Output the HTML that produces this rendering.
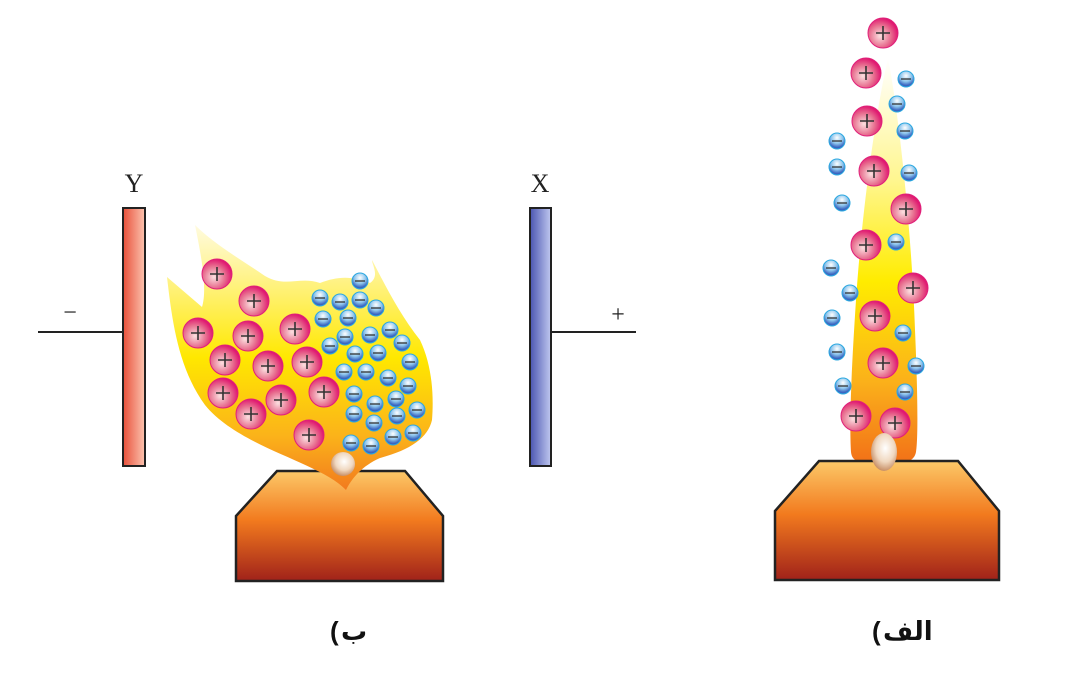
<!DOCTYPE html>
<html><head><meta charset="utf-8"><style>
html,body{margin:0;padding:0;background:#fff;width:1065px;height:675px;overflow:hidden}
svg{display:block}
</style></head><body>
<svg id="s" width="1065" height="675" viewBox="0 0 1065 675" xmlns="http://www.w3.org/2000/svg">
<defs>
<linearGradient id="burn" x1="0" y1="0" x2="0" y2="1"><stop offset="0" stop-color="#fcc868"/><stop offset="0.45" stop-color="#f27a1e"/><stop offset="1" stop-color="#a0221a"/></linearGradient>
<linearGradient id="flameL" x1="0" y1="0" x2="0" y2="1"><stop offset="0" stop-color="#fffbe0"/><stop offset="0.2" stop-color="#fff38a"/><stop offset="0.5" stop-color="#ffe800"/><stop offset="0.8" stop-color="#fbb21a"/><stop offset="1" stop-color="#f27a1e"/></linearGradient>
<linearGradient id="flameR" x1="0" y1="0" x2="0" y2="1"><stop offset="0" stop-color="#ffffff"/><stop offset="0.3" stop-color="#fff690"/><stop offset="0.55" stop-color="#ffec00"/><stop offset="0.8" stop-color="#fbb01a"/><stop offset="1" stop-color="#f27018"/></linearGradient>
<linearGradient id="red" x1="0" y1="0" x2="1" y2="0"><stop offset="0" stop-color="#e8503a"/><stop offset="1" stop-color="#fcc4b0"/></linearGradient>
<linearGradient id="blue" x1="0" y1="0" x2="1" y2="0"><stop offset="0" stop-color="#4a55b0"/><stop offset="1" stop-color="#c0c8f0"/></linearGradient>
<radialGradient id="pos" cx="0.4" cy="0.6" r="0.6"><stop offset="0" stop-color="#fbe0e0"/><stop offset="0.6" stop-color="#e87090"/><stop offset="1" stop-color="#e01870"/></radialGradient>
<radialGradient id="neg" cx="0.5" cy="0.3" r="0.6"><stop offset="0" stop-color="#ffffff"/><stop offset="0.6" stop-color="#8cc4ec"/><stop offset="1" stop-color="#3a64c0"/></radialGradient>
<radialGradient id="egg" cx="0.55" cy="0.4" r="0.6"><stop offset="0" stop-color="#ffffff"/><stop offset="0.6" stop-color="#f0d8c0"/><stop offset="1" stop-color="#c89068"/></radialGradient>
</defs>

<polygon points="277,471 405,471 443,516 443,581 236,581 236,516" fill="url(#burn)" stroke="#222" stroke-width="2.5"/>
<path fill="url(#flameL)" d="M346,490 C320,462 240,448 205,405 C178,368 172,320 167,277 L202,307 C208,288 200,250 195,225 C215,245 245,262 265,276 C285,288 300,276 320,283 C338,276 352,276 370,283 C380,276 372,265 372,260 C385,285 400,315 420,340 C432,365 434,395 432,420 C428,438 410,450 380,458 C362,466 352,478 346,490 Z"/>
<path fill="url(#flameR)" d="M888,58 C900,120 912,240 915,330 C918,400 918,440 916,452 C914,462 905,464 884,464 C860,464 852,462 851,452 C849,420 852,360 856,300 C862,210 876,110 888,58 Z"/>
<polygon points="819,461 958,461 999,511 999,580 775,580 775,511" fill="url(#burn)" stroke="#222" stroke-width="2.5"/>

<g id="ions"></g>

<ellipse cx="343" cy="464" rx="12" ry="12" fill="url(#egg)"/>
<ellipse cx="884" cy="452" rx="13" ry="19" fill="url(#egg)"/>

<line x1="38" y1="332" x2="123" y2="332" stroke="#222" stroke-width="2"/>
<line x1="551" y1="332" x2="636" y2="332" stroke="#222" stroke-width="2"/>
<rect x="123" y="208" width="22" height="258" fill="url(#red)" stroke="#222" stroke-width="2"/>
<rect x="530" y="208" width="21" height="258" fill="url(#blue)" stroke="#222" stroke-width="2"/>
<g font-family="Liberation Serif, serif" font-size="26" fill="#222">
<text x="134" y="192" text-anchor="middle">Y</text>
<text x="540" y="192" text-anchor="middle">X</text>
<text x="70" y="320" text-anchor="middle" font-size="24">−</text>
<text x="618" y="322" text-anchor="middle" font-size="24">+</text>
</g>
<g font-family="Liberation Sans, 'DejaVu Sans', sans-serif" font-size="26" font-weight="bold" fill="#111">
<text x="330" y="640">(</text>
<text x="341" y="640">ب</text>
<text x="872" y="640">(</text>
<text x="883" y="640">الف</text>
</g>
</svg>
<script>
const posX=[217,254,198,248,295,225,268,307,223,281,251,324,309,883,866,867,874,906,866,913,875,883,856,895];
const posY=[274,301,333,336,329,360,366,362,393,400,414,392,435,33,73,121,171,209,245,288,316,363,416,423];
const negX=[360,320,340,360,376,323,348,330,345,370,390,402,355,378,410,344,366,388,408,354,375,396,417,354,374,397,413,351,371,393,906,897,905,837,837,909,842,896,831,850,832,903,837,916,843,905];
const negY=[281,298,302,300,308,319,318,346,337,335,330,343,354,353,362,372,372,378,386,394,404,399,410,414,423,416,433,443,446,437,79,104,131,141,167,173,203,242,268,293,318,333,352,366,386,392];
const NS='http://www.w3.org/2000/svg';
const g=document.getElementById('ions');
function mk(t,a){const e=document.createElementNS(NS,t);for(const k in a)e.setAttribute(k,a[k]);return e;}
for(let i=0;i<negX.length;i++){
  const c=mk('g',{});
  
  
  c.appendChild(mk('circle',{cx:negX[i],cy:negY[i],r:8,fill:'url(#neg)',stroke:'#2aa8e0','stroke-width':1}));
  c.appendChild(mk('line',{x1:negX[i]-5,y1:negY[i],x2:negX[i]+5,y2:negY[i],stroke:'#333','stroke-width':1.3}));
  g.appendChild(c);
}
for(let i=0;i<posX.length;i++){
  const c=mk('g',{});
  
  
  c.appendChild(mk('circle',{cx:posX[i],cy:posY[i],r:15,fill:'url(#pos)',stroke:'#e0207a','stroke-width':1}));
  c.appendChild(mk('path',{d:`M${posX[i]-7},${posY[i]}h14M${posX[i]},${posY[i]-7}v14`,stroke:'#333','stroke-width':1.6}));
  g.appendChild(c);
}
</script>
</body></html>
